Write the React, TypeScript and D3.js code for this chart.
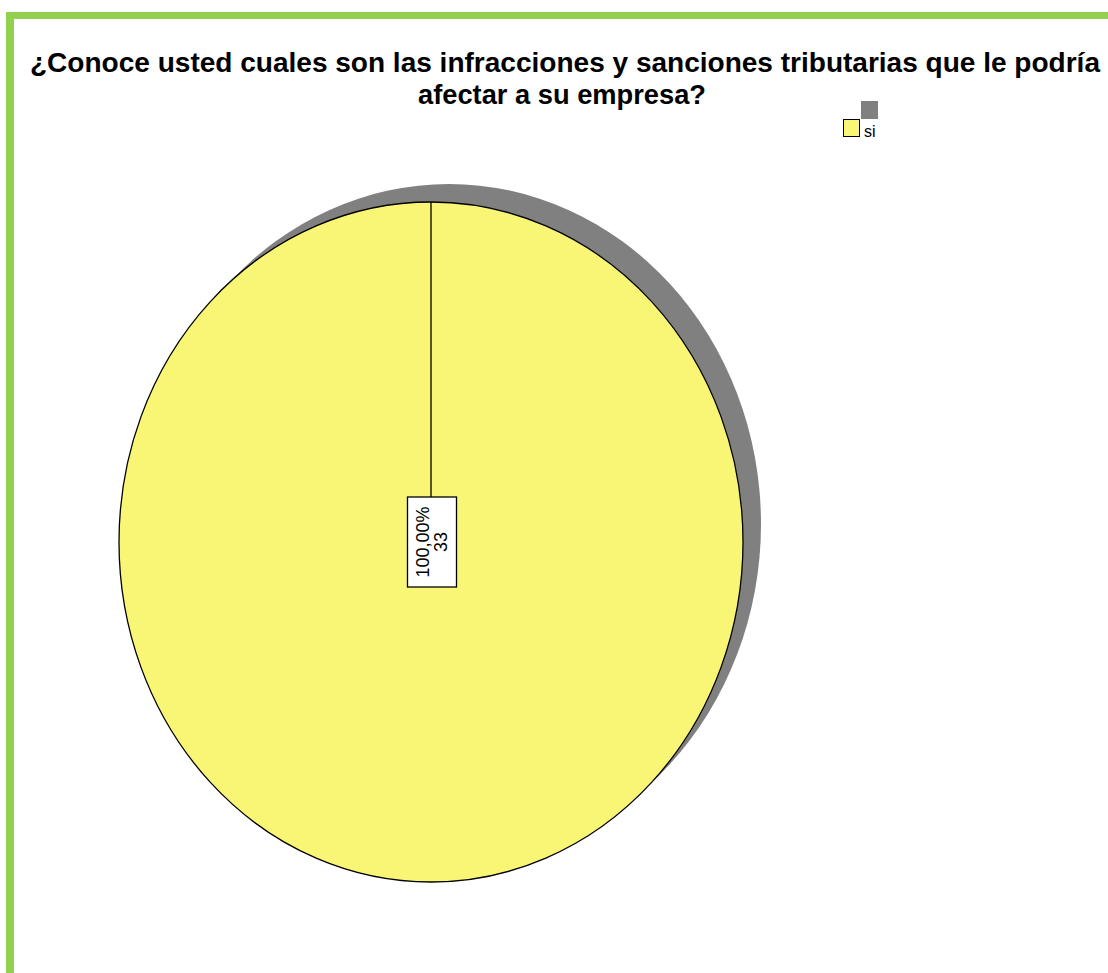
import React from "react";
import * as d3 from "d3";

const title = [
  "¿Conoce usted cuales son las infracciones y sanciones tributarias que le podría",
  "afectar a su empresa?",
];
const categories = ["si"];
const counts = [33];
const colors = ["#FAF675"];

const W = 1108;
const H = 973;
const cx = 431;
const cy = 542;
const rx = 312;
const ry = 340;
const shadowOff = 18;

export default function App() {
  const total = d3.sum(counts);
  const pie = d3.pie<number>().sort(null).startAngle(0).endAngle(2 * Math.PI)(counts);
  const arc = d3.arc<d3.PieArcDatum<number>>().innerRadius(0).outerRadius(1);
  const pct = d3.format(".2f");

  return (
    <svg
      width={W}
      height={H}
      style={{ position: "absolute", left: 0, top: 0, background: "#fff" }}
      fontFamily="Liberation Sans, Arial, sans-serif"
    >
      <rect x={0} y={0} width={W} height={H} fill="#fff" />
      {/* green frame */}
      <rect x={6} y={12} width={W - 6} height={7} fill="#92D050" />
      <rect x={6} y={12} width={8} height={H - 12} fill="#92D050" />

      {/* title */}
      <text x={565} y={72} textAnchor="middle" fontSize={27.5} fontWeight="bold" fill="#000"
        textLength={1070} lengthAdjust="spacingAndGlyphs">
        {title[0]}
      </text>
      <text x={562} y={104} textAnchor="middle" fontSize={27.5} fontWeight="bold" fill="#000"
        textLength={288} lengthAdjust="spacingAndGlyphs">
        {title[1]}
      </text>

      {/* legend */}
      <rect x={861} y={101} width={17} height={18} fill="#808080" />
      {categories.map((c, i) => (
        <g key={c}>
          <rect x={843.5} y={119.5} width={16} height={17} fill={colors[i]} stroke="#000" strokeWidth={1} />
          <text x={864} y={137} fontSize={16} fill="#000">{c}</text>
        </g>
      ))}

      {/* shadow */}
      <g transform={`translate(${cx + shadowOff},${cy - shadowOff}) scale(${rx},${ry})`}>
        {pie.map((d, i) => (
          <path key={i} d={arc(d) || ""} fill="#808080" />
        ))}
      </g>
      {/* pie */}
      <g transform={`translate(${cx},${cy}) scale(${rx},${ry})`}>
        {pie.map((d, i) => (
          <g key={i}>
            <path
              d={arc(d) || ""}
              fill={colors[i]}
              stroke="#000"
              strokeWidth={1.3}
              vectorEffect="non-scaling-stroke"
            />
            <line
              x1={0}
              y1={0}
              x2={Math.sin(d.startAngle)}
              y2={-Math.cos(d.startAngle)}
              stroke="#000"
              strokeWidth={1.3}
              vectorEffect="non-scaling-stroke"
            />
          </g>
        ))}
      </g>

      {/* labels */}
      {pie.map((d, i) => (
        <g key={i} transform={`translate(${cx + 1},${cy})`}>
          <rect x={-24.5} y={-45} width={49} height={90} fill="#fff" stroke="#000" strokeWidth={1.3} />
          <g transform="rotate(-90)">
            <text x={0} y={-3} textAnchor="middle" fontSize={18} fill="#000">
              {pct((counts[i] / total) * 100).replace(".", ",")}%
            </text>
            <text x={0} y={15} textAnchor="middle" fontSize={18} fill="#000">
              {counts[i]}
            </text>
          </g>
        </g>
      ))}
    </svg>
  );
}
